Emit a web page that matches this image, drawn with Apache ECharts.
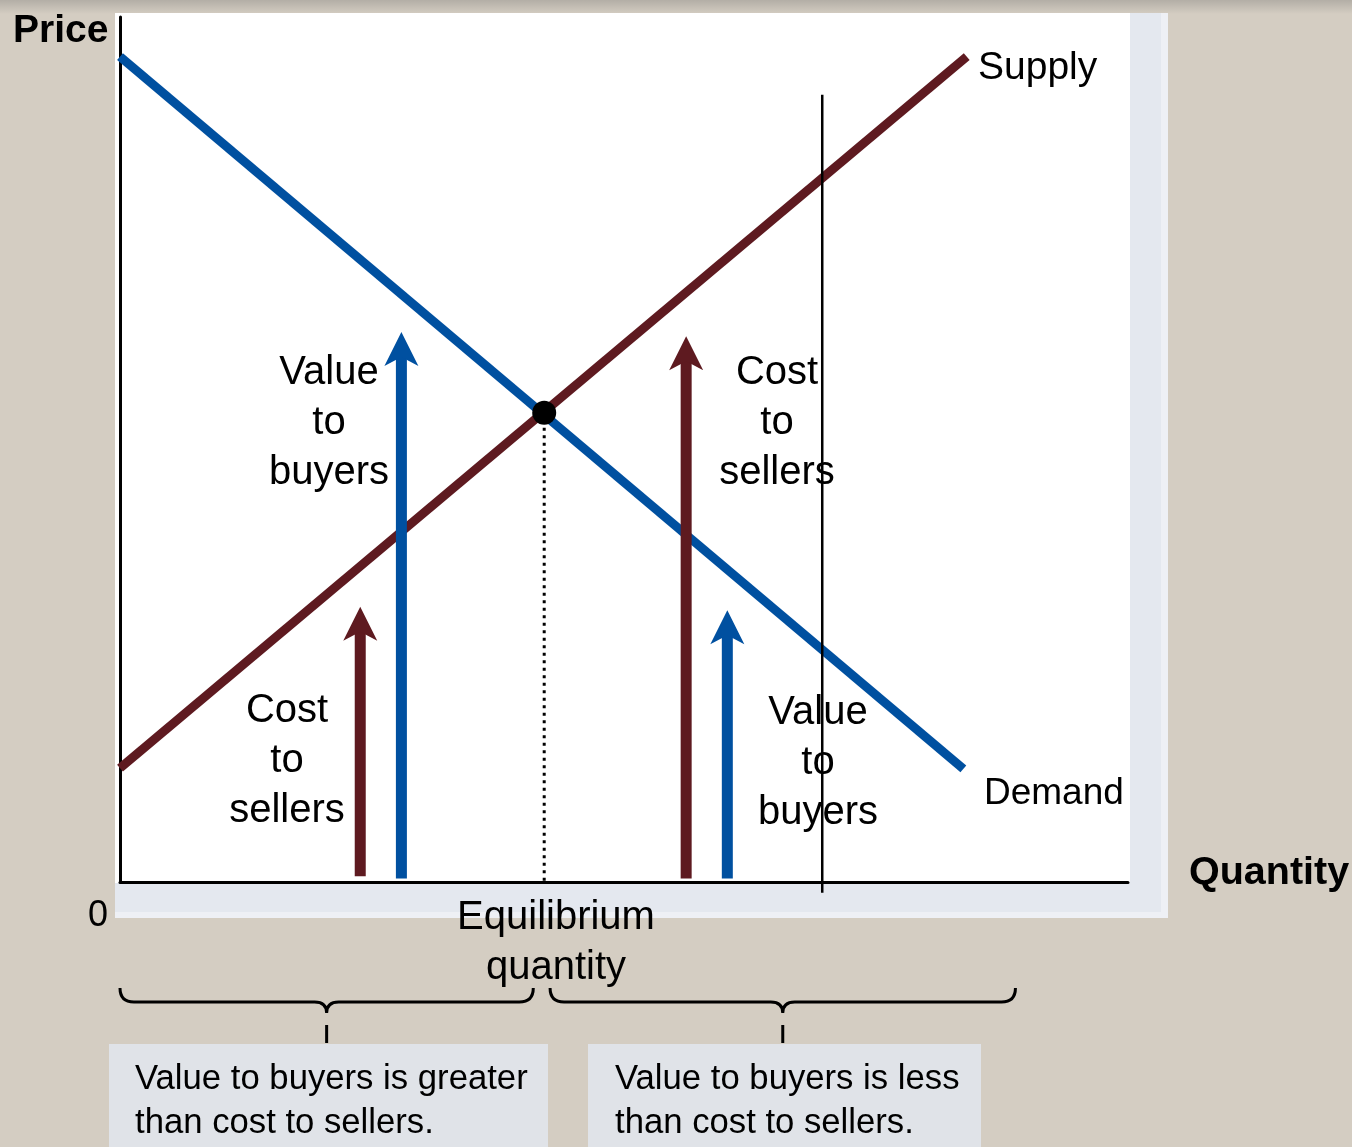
<!DOCTYPE html>
<html>
<head>
<meta charset="utf-8">
<script src="https://cdn.jsdelivr.net/npm/echarts@6/dist/echarts.min.js"></script>
<style>
  html, body { margin: 0; padding: 0; background: #d4cdc2; }
  #chart { width: 1352px; height: 1147px; }
</style>
</head>
<body>
<div id="chart"></div>
<script>
// quantity (x) / price (y), axes run 0..12
var demandX = [0, 10.04];
var demandY = [11.45, 1.57];
var supplyX = [0, 10.08];
var supplyY = [1.58, 11.45];
var equilibrium = [5.05, 6.51];
var refLineX = [8.36, 8.36];
var refLineY = [10.92, -0.15];
// arrows: [quantity, from price, to price]
var costArrows = [[2.86, 0.08, 3.82], [6.74, 0.05, 7.57]];
var valueArrows = [[3.35, 0.05, 7.63], [7.23, 0.05, 3.77]];
// braces under the axis: [from quantity, to quantity]
var braceRanges = [[0, 4.92], [5.12, 10.66]];

var FONT = '"Liberation Sans", Arial, sans-serif';
var BLUE = '#0050a0';
var MAROON = '#5e1a20';

function pairs(xs, ys) {
    return xs.map(function (x, i) { return [x, ys[i]]; });
}

function arrowItem(color) {
    return function (params, api) {
        var base = api.coord([api.value(0), api.value(1)]);
        var tip = api.coord([api.value(0), api.value(2)]);
        var headL = 34, headW = 17, notch = 25, shaft = 11;
        return {
            type: 'group',
            children: [{
                type: 'rect',
                shape: { x: base[0] - shaft / 2, y: tip[1] + notch - 2, width: shaft, height: base[1] - tip[1] - notch + 2 },
                style: { fill: color }
            }, {
                type: 'polygon',
                shape: { points: [[tip[0], tip[1]], [tip[0] + headW, tip[1] + headL], [tip[0], tip[1] + notch], [tip[0] - headW, tip[1] + headL]] },
                style: { fill: color }
            }]
        };
    };
}

function braceItem(params, api) {
    var a = api.coord([api.value(0), 0]);
    var b = api.coord([api.value(1), 0]);
    var y0 = a[1];
    var top = y0 + 106, mid = y0 + 120, cusp = y0 + 131, r = 14;
    var cx = (a[0] + b[0]) / 2;
    var d = 'M' + a[0] + ' ' + top +
        ' Q' + a[0] + ' ' + mid + ' ' + (a[0] + r) + ' ' + mid +
        ' L' + (cx - 12) + ' ' + mid +
        ' Q' + cx + ' ' + mid + ' ' + cx + ' ' + cusp +
        ' Q' + cx + ' ' + mid + ' ' + (cx + 12) + ' ' + mid +
        ' L' + (b[0] - r) + ' ' + mid +
        ' Q' + b[0] + ' ' + mid + ' ' + b[0] + ' ' + top;
    return {
        type: 'group',
        children: [{
            type: 'path',
            shape: { pathData: d },
            style: { stroke: '#000', lineWidth: 3, fill: null }
        }, {
            type: 'line',
            shape: { x1: cx, y1: y0 + 143, x2: cx, y2: y0 + 161 },
            style: { stroke: '#000', lineWidth: 3 }
        }]
    };
}

function txt(str, x, y, size, opts) {
    opts = opts || {};
    return {
        type: 'text', x: x, y: y, z: 1,
        style: {
            text: str,
            font: (opts.bold ? 'bold ' : '') + size + 'px ' + FONT,
            fill: '#000',
            align: opts.align || 'center',
            verticalAlign: 'middle',
            lineHeight: opts.lh || size
        }
    };
}

var chart = echarts.init(document.getElementById('chart'));
var option = {
    animation: false,
    backgroundColor: '#d4cdc2',
    grid: { left: 120, right: 224, top: 17, bottom: 265 },
    xAxis: {
        type: 'value', min: 0, max: 12,
        axisLine: { show: true, lineStyle: { color: '#000', width: 3 } },
        axisTick: { show: false }, axisLabel: { show: false }, splitLine: { show: false }
    },
    yAxis: {
        type: 'value', min: 0, max: 12,
        axisLine: { show: true, lineStyle: { color: '#000', width: 3 } },
        axisTick: { show: false }, axisLabel: { show: false }, splitLine: { show: false }
    },
    graphic: [
        {
            type: 'rect', z: 0, shape: { x: 0, y: 0, width: 1352, height: 14 },
            style: { fill: new echarts.graphic.LinearGradient(0, 0, 0, 1, [{ offset: 0, color: '#b3aea6' }, { offset: 1, color: '#d4cdc2' }]) }
        },
        { type: 'rect', z: 0, shape: { x: 115, y: 13, width: 1053, height: 905 }, style: { fill: '#eef0f5' } },
        { type: 'rect', z: 0, shape: { x: 115, y: 13, width: 1046, height: 899 }, style: { fill: '#e4e8ef' } },
        { type: 'rect', z: 0, shape: { x: 115, y: 13, width: 1015, height: 870 }, style: { fill: '#ffffff' } },
        { type: 'rect', z: 0, shape: { x: 109, y: 1044, width: 439, height: 103 }, style: { fill: '#e0e3e8' } },
        { type: 'rect', z: 0, shape: { x: 588, y: 1044, width: 393, height: 103 }, style: { fill: '#e0e3e8' } },
        txt('Price', 13, 31, 39, { bold: true, align: 'left' }),
        txt('Quantity', 1189, 873, 39.5, { bold: true, align: 'left' }),
        txt('0', 98, 916, 36),
        txt('Supply', 978, 68, 39, { align: 'left' }),
        txt('Demand', 984, 794, 37, { align: 'left' }),
        txt('Value\nto\nbuyers', 329, 423, 40, { lh: 50 }),
        txt('Cost\nto\nsellers', 777, 423, 40, { lh: 50 }),
        txt('Cost\nto\nsellers', 287, 761, 40, { lh: 50 }),
        txt('Value\nto\nbuyers', 818, 763, 40, { lh: 50 }),
        txt('Equilibrium\nquantity', 556, 943, 40, { lh: 50 }),
        txt('Value to buyers is greater\nthan cost to sellers.', 135, 1101, 34.7, { align: 'left', lh: 44 }),
        txt('Value to buyers is less\nthan cost to sellers.', 615, 1101, 34.7, { align: 'left', lh: 44 })
    ],
    series: [
        {
            name: 'Demand', type: 'line', symbol: 'none', z: 2,
            lineStyle: { color: BLUE, width: 9 },
            data: pairs(demandX, demandY)
        },
        {
            name: 'Supply', type: 'line', symbol: 'none', z: 2,
            lineStyle: { color: MAROON, width: 9 },
            data: pairs(supplyX, supplyY)
        },
        {
            name: 'Equilibrium quantity', type: 'line', symbol: 'none', z: 3,
            lineStyle: { color: '#000', width: 3, type: [3, 4.5] },
            data: [equilibrium, [equilibrium[0], 0]]
        },
        {
            name: 'Cost to sellers', type: 'custom', z: 4,
            renderItem: arrowItem(MAROON),
            encode: { x: 0, y: [1, 2] },
            data: costArrows
        },
        {
            name: 'Value to buyers', type: 'custom', z: 4,
            renderItem: arrowItem(BLUE),
            encode: { x: 0, y: [1, 2] },
            data: valueArrows
        },
        {
            name: 'Quantity line', type: 'line', symbol: 'none', z: 5, clip: false,
            lineStyle: { color: '#000', width: 2.5 },
            data: pairs(refLineX, refLineY)
        },
        {
            name: 'Equilibrium', type: 'scatter', z: 6,
            symbolSize: 24, itemStyle: { color: '#000', opacity: 1 },
            data: [equilibrium]
        },
        {
            name: 'Braces', type: 'custom', z: 4, clip: false,
            renderItem: braceItem,
            encode: { x: [0, 1] },
            data: braceRanges
        }
    ]
};
chart.setOption(option);
</script>
</body>
</html>
